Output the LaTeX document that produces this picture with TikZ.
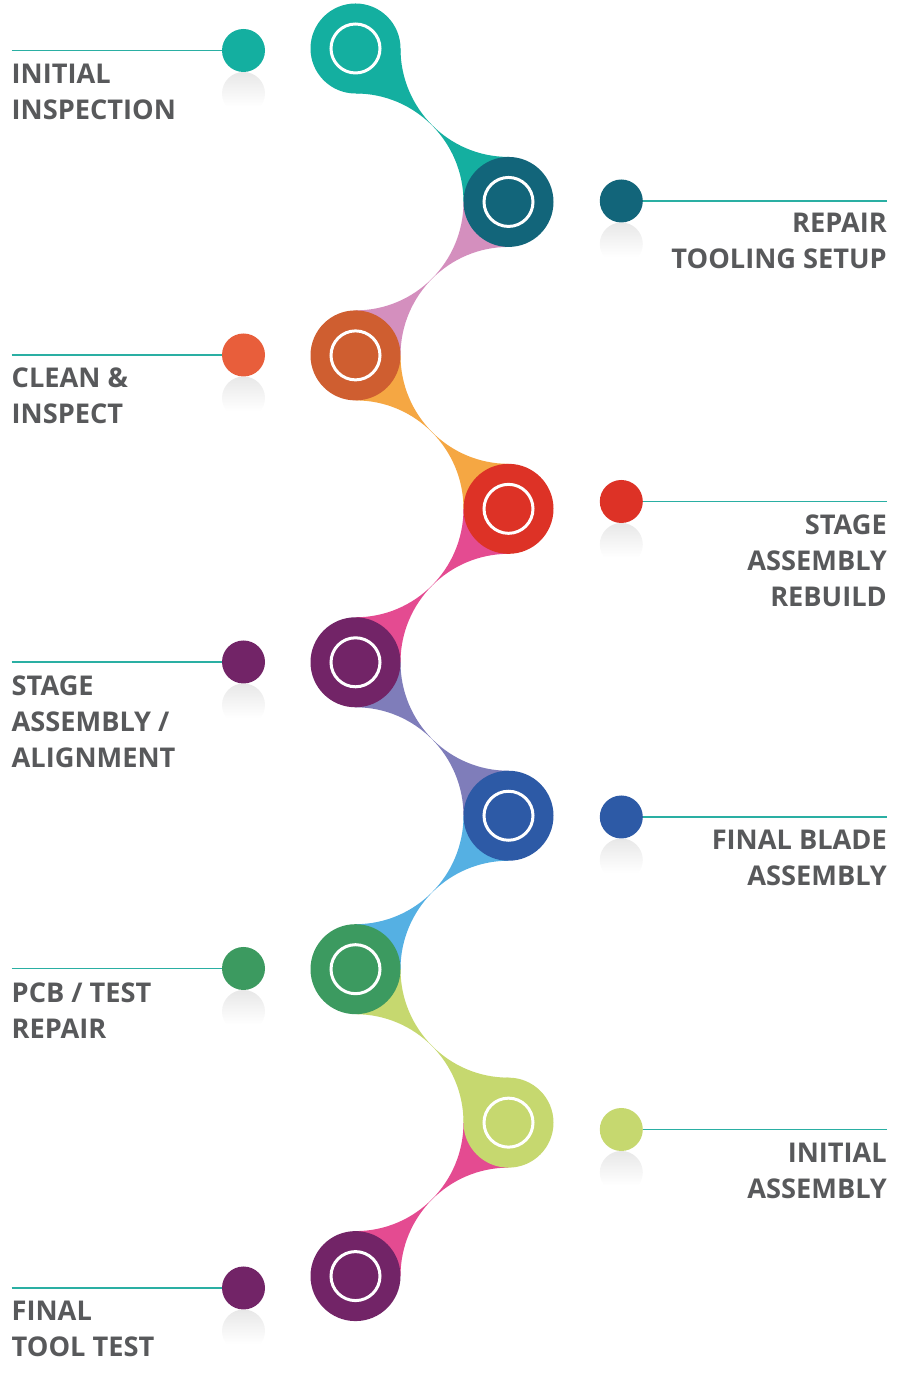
\documentclass[tikz,border=0pt]{standalone}
\usepackage{fontspec}
\setmainfont{Open Sans}
\pgfdeclarelayer{background}
\pgfsetlayers{background,main}

\definecolor{stepteal}{HTML}{14AFA0}
\definecolor{steppetrol}{HTML}{12657A}
\definecolor{steprust}{HTML}{CF5E30}
\definecolor{stepred}{HTML}{DD3226}
\definecolor{stepplum}{HTML}{722467}
\definecolor{stepblue}{HTML}{2D5AA6}
\definecolor{stepgreen}{HTML}{3C9A60}
\definecolor{steplime}{HTML}{C6D86F}
\definecolor{linkrose}{HTML}{D48FBE}
\definecolor{linkorange}{HTML}{F5A743}
\definecolor{linkpink}{HTML}{E44B91}
\definecolor{linklilac}{HTML}{7F7DBA}
\definecolor{linksky}{HTML}{55B0E3}
\definecolor{dotcoral}{HTML}{E85E3B}
\definecolor{leadline}{HTML}{2AAFA3}
\definecolor{labelgrey}{HTML}{58595B}

\pgfdeclareverticalshading{reflect}{100bp}{color(0bp)=(white); color(35bp)=(white); color(70bp)=(black!8); color(100bp)=(black!17)}

\tikzset{
stage/.style={circle,minimum size=90pt,inner sep=0pt,outer sep=0pt},
ring/.style={circle,draw=white,line width=3pt,minimum size=49pt,inner sep=0pt},
bullet/.style={circle,minimum size=43pt,inner sep=0pt,outer sep=0pt},
lead/.style={draw=leadline,line width=1.6pt},
lbl/.style={font=\fontsize{27.2}{36}\selectfont\bfseries,text=labelgrey,inner sep=0pt}}

\begin{document}
\begin{tikzpicture}[x=1pt,y=1pt]
  \useasboundingbox (0,0) rectangle (899,1374);
  % big stage circles with white rings
  \foreach \i/\col in {1/stepteal,2/steppetrol,3/steprust,4/stepred,5/stepplum,
                       6/stepblue,7/stepgreen,8/steplime,9/stepplum}{
    \pgfmathsetmacro\sx{isodd(\i) ? 355.5 : 508.5}
    \pgfmathsetmacro\sy{1325.5-153.45*(\i-1)}
    \node[stage,fill=\col] (s\i) at (\sx,\sy) {};
    \node[ring] (r\i) at (s\i) {};
  }
  % links between stages
  \begin{pgfonlayer}{background}
  \foreach \i/\col in {1/stepteal,2/linkrose,3/linkorange,4/linkpink,
                       5/linklilac,6/linksky,7/steplime,8/linkpink}{
    \pgfmathtruncatemacro\j{\i+1}
    \ifodd\i\relax
      \fill[\col] (s\i.east) arc[start angle=180,end angle=270,x radius=108pt,y radius=108.45pt]
        -- (s\j.west) arc[start angle=0,end angle=90,x radius=108pt,y radius=108.45pt] -- cycle;
    \else
      \fill[\col] (s\i.west) arc[start angle=0,end angle=-90,x radius=108pt,y radius=108.45pt]
        -- (s\j.east) arc[start angle=180,end angle=90,x radius=108pt,y radius=108.45pt] -- cycle;
    \fi
  }
  \end{pgfonlayer}
  % side bullets, reflections and lead lines
  \foreach \i/\col/\dy in {1/stepteal/50.5,2/steppetrol/201,3/dotcoral/355,4/stepred/501.5,
                           5/stepplum/662,6/stepblue/817,7/stepgreen/968.5,8/steplime/1129.5,9/stepplum/1288}{
    \pgfmathsetmacro\dx{isodd(\i) ? 243.5 : 621.3}
    \pgfmathsetmacro\ex{isodd(\i) ? 11.5 : 887}
    \coordinate (e\i) at (\ex,1374-\dy);
    \shade[shading=reflect] (\dx,1374-\dy-43) circle[radius=21.5pt];
    \draw[lead] (e\i) -- (\dx,1374-\dy);
    \node[bullet,fill=\col] (d\i) at (\dx,1374-\dy) {};
  }
  % labels (base = last line)
  \node[lbl,anchor=base west,align=left] (t1) at ([yshift=-69pt]e1) {INITIAL\\INSPECTION};
  \node[lbl,anchor=base east,align=right] (t2) at ([yshift=-68pt]e2) {REPAIR\\TOOLING SETUP};
  \node[lbl,anchor=base west,align=left] (t3) at ([yshift=-69pt]e3) {CLEAN \&\\INSPECT};
  \node[lbl,anchor=base east,align=right] (t4) at ([yshift=-105pt]e4) {STAGE\\ASSEMBLY\\REBUILD};
  \node[lbl,anchor=base west,align=left] (t5) at ([yshift=-106pt]e5) {STAGE\\ASSEMBLY /\\ALIGNMENT};
  \node[lbl,anchor=base east,align=right] (t6) at ([yshift=-69pt]e6) {FINAL BLADE\\ASSEMBLY};
  \node[lbl,anchor=base west,align=left] (t7) at ([yshift=-70pt]e7) {PCB / TEST\\REPAIR};
  \node[lbl,anchor=base east,align=right] (t8) at ([yshift=-69pt]e8) {INITIAL\\ASSEMBLY};
  \node[lbl,anchor=base west,align=left] (t9) at ([yshift=-69pt]e9) {FINAL\\TOOL TEST};
\end{tikzpicture}
\end{document}
